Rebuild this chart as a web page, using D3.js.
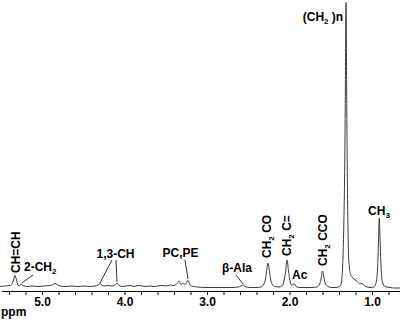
<!DOCTYPE html>
<html>
<head>
<meta charset="utf-8">
<script src="https://cdn.jsdelivr.net/npm/d3@7"></script>
<style>
    html, body { margin: 0; padding: 0; background: #fff; }
    svg { display: block; }
    .trace { fill: none; stroke: #3a3a3a; stroke-width: 1; }
    .axis path, .axis line { stroke: #000; stroke-width: 1; }
    .axis text { font: bold 12px "Liberation Sans", Arial, sans-serif; fill: #000; }
    .peak-label { font: bold 12px "Liberation Sans", Arial, sans-serif; fill: #000; }
    .leader { stroke: #000; stroke-width: 0.8; }
</style>
</head>
<body>
<svg id="chart"></svg>
<script>
    // chemical shift (ppm) and intensity (a.u.)
    var spectrum = [
        [5.509, 1], [5.448, 1.5], [5.388, 2], [5.364, 3.5], [5.345, 7.5], [5.327, 12],
        [5.309, 7.5], [5.291, 2.5], [5.273, 1.5], [5.255, 3.5], [5.230, 2], [5.182, 1],
        [5.121, 1.5], [5.048, 1], [4.976, 1.5], [4.903, 2], [4.867, 3], [4.842, 4],
        [4.818, 3], [4.782, 1.5], [4.709, 1], [4.636, 1.5], [4.564, 1], [4.491, 1.5],
        [4.418, 1], [4.358, 1.5], [4.321, 2.5], [4.297, 4], [4.273, 2], [4.236, 1.5],
        [4.200, 2], [4.152, 1.5], [4.115, 2.5], [4.091, 4.5], [4.067, 2], [4.030, 1],
        [3.982, 1.5], [3.933, 2], [3.885, 1], [3.836, 2], [3.788, 1.5], [3.739, 1],
        [3.691, 1.5], [3.642, 1], [3.594, 1.5], [3.545, 2], [3.497, 1.5], [3.448, 2.5],
        [3.412, 2], [3.376, 3], [3.339, 6.5], [3.315, 3], [3.291, 4.5], [3.267, 3],
        [3.230, 7], [3.206, 2.5], [3.170, 1], [3.109, 0.5], [3.024, 0], [2.903, 0],
        [2.782, 0], [2.697, 0], [2.624, 0.5], [2.588, 1.5], [2.564, 2.5], [2.539, 1],
        [2.479, 0], [2.406, 0], [2.345, 0.5], [2.309, 3.5], [2.291, 8.5], [2.279, 15.5],
        [2.261, 24.5], [2.242, 15.5], [2.230, 8.5], [2.212, 3.5], [2.176, 1], [2.127, 0.5],
        [2.091, 1.5], [2.067, 6.5], [2.048, 15.5], [2.030, 27.5], [2.012, 16.5], [1.994, 6.5],
        [1.970, 2], [1.945, 4], [1.921, 1], [1.873, 0], [1.800, 0], [1.727, 0],
        [1.667, 0.5], [1.636, 3.5], [1.618, 8.5], [1.600, 16.5], [1.582, 9.5], [1.564, 3.5],
        [1.533, 1], [1.485, 0], [1.436, 0], [1.388, 1.5], [1.370, 5.5], [1.360, 15.5],
        [1.352, 29.5], [1.342, 62.5], [1.333, 107.5], [1.325, 177.5], [1.315, 285],
        [1.306, 177.5], [1.299, 107.5], [1.292, 62.5], [1.284, 32.5], [1.274, 19.5],
        [1.261, 13.5], [1.242, 10.5], [1.218, 8.5], [1.194, 7], [1.170, 5], [1.145, 3.5],
        [1.121, 4], [1.097, 2], [1.061, 0.5], [1.012, 0], [0.976, 0.5], [0.952, 4.5],
        [0.933, 19.5], [0.921, 47.5], [0.912, 69.5], [0.903, 49.5], [0.891, 21.5],
        [0.873, 5.5], [0.842, 1], [0.782, 0], [0.721, -0.5], [0.661, -0.5]
    ];

    var tickValues = [5.4, 5.2, 5.0, 4.8, 4.6, 4.4, 4.2, 4.0, 3.8, 3.6, 3.4, 3.2, 3.0,
        2.8, 2.6, 2.4, 2.2, 2.0, 1.8, 1.6, 1.4, 1.2, 1.0, 0.8];
    var labelledTicks = [5, 4, 3, 2, 1];

    // peak assignments: text parts (sub = subscript), anchor ppm / intensity
    var peakLabels = [
        { parts: [["CH=CH"]], ppm: 5.267, level: 14.5, rotate: true },
        { parts: [["2-CH"], ["2", "sub"]], ppm: 5.218, level: 16.5 },
        { parts: [["1,3-CH"]], ppm: 4.340, level: 29.5 },
        { parts: [["PC,PE"]], ppm: 3.540, level: 30.5 },
        { parts: [["\u03b2-Ala"]], ppm: 2.818, level: 15.5 },
        { parts: [["CH"], ["2", "sub"], [" CO"]], ppm: 2.224, level: 29.5, rotate: true },
        { parts: [["CH"], ["2", "sub"], [" C="]], ppm: 1.982, level: 31.5, rotate: true },
        { parts: [["Ac"]], ppm: 1.970, level: 8.5 },
        { parts: [["CH"], ["2", "sub"], [" CCO"]], ppm: 1.545, level: 21.5, rotate: true },
        { parts: [["(CH"], ["2", "sub"], [" )n"]], ppm: 1.840, level: 266.5 },
        { parts: [["CH"], ["3", "sub"]], ppm: 1.048, level: 72.5 }
    ];

    // leader lines [fromPpm, fromLevel, toPpm, toLevel]
    var leaders = [
        [5.109, 12.5, 5.243, 4.5],
        [4.152, 27.5, 4.297, 4.5],
        [4.103, 27.5, 4.091, 5.5],
        [3.267, 27.5, 3.230, 8.5],
        [2.648, 12.5, 2.564, 3.5]
    ];

    var width = 400;
    var height = 322;
    var axisY = 291;

    var svg = d3.select("#chart")
        .attr("width", width)
        .attr("height", height)
        .attr("viewBox", "0 0 " + width + " " + height);

    var x = d3.scaleLinear().domain([5.509, 0.661]).range([0, width]);
    var y = d3.scaleLinear().domain([0, 285]).range([287.5, 2.5]);

    var line = d3.line()
        .x(function(d) { return x(d[0]); })
        .y(function(d) { return y(d[1]); })
        .curve(d3.curveMonotoneX);

    svg.append("path")
        .datum(spectrum)
        .attr("class", "trace")
        .attr("d", line);

    var axis = d3.axisBottom(x)
        .tickValues(tickValues)
        .tickSize(4)
        .tickSizeOuter(0)
        .tickFormat(function(d) {
            return labelledTicks.indexOf(Math.round(d * 10) / 10) >= 0 ? d3.format(".1f")(d) : "";
        });

    var axisG = svg.append("g")
        .attr("class", "axis")
        .attr("transform", "translate(0," + axisY + ")")
        .call(axis);
    axisG.select(".domain").attr("d", "M2,0.5H" + width);
    axisG.selectAll(".tick text").attr("y", 6);

    svg.append("text")
        .attr("class", "peak-label")
        .attr("x", 1)
        .attr("y", 316)
        .text("ppm");

    svg.selectAll(".leader")
        .data(leaders)
        .enter()
        .append("line")
        .attr("class", "leader")
        .attr("x1", function(d) { return x(d[0]); })
        .attr("y1", function(d) { return y(d[1]); })
        .attr("x2", function(d) { return x(d[2]); })
        .attr("y2", function(d) { return y(d[3]); });

    var labels = svg.selectAll(".peak-label-g")
        .data(peakLabels)
        .enter()
        .append("text")
        .attr("class", "peak-label")
        .attr("transform", function(d) {
            var t = "translate(" + x(d.ppm) + "," + y(d.level) + ")";
            return d.rotate ? t + " rotate(-90)" : t;
        });

    labels.each(function(d) {
        var el = d3.select(this);
        var shifted = false;
        d.parts.forEach(function(p) {
            var span = el.append("tspan").text(p[0]);
            if (p[1] === "sub") {
                span.attr("font-size", "8px").attr("dy", 3);
                shifted = true;
            } else if (shifted) {
                span.attr("dy", -3);
                shifted = false;
            }
        });
    });
</script>
</body>
</html>
